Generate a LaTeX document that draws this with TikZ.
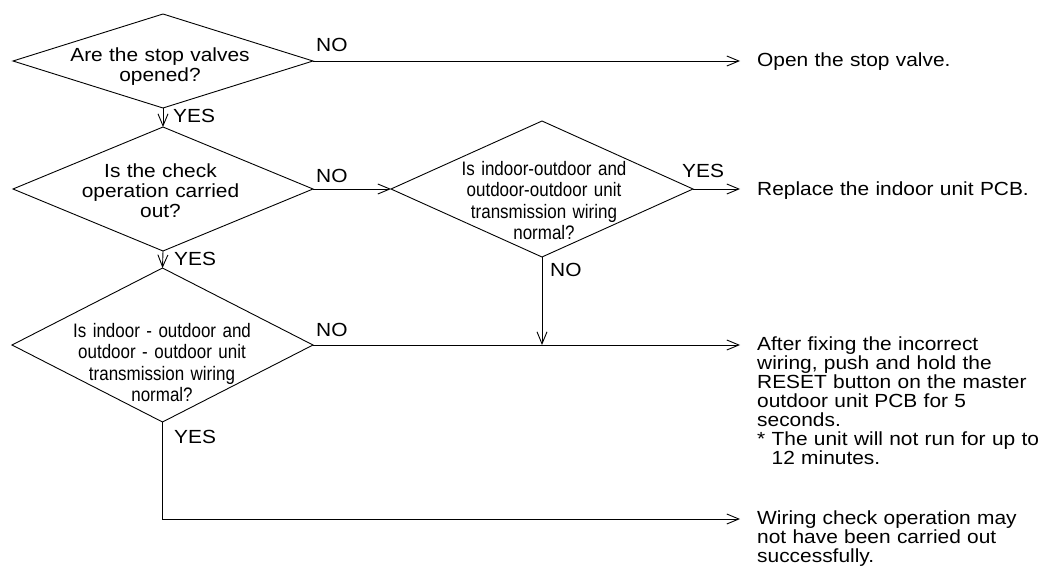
\documentclass[tikz,border=0pt]{standalone}
\usepackage{fontspec}
\setmainfont{Liberation Sans}
\newfontfamily\flowfont{Liberation Sans}[FakeStretch=1.1]
\newfontfamily\narrowfont{Liberation Sans}[FakeStretch=0.87]
\usetikzlibrary{shapes.geometric,arrows.meta}

\begin{document}
\begin{tikzpicture}[x=1pt,y=-1pt,
  decision/.style={draw, diamond, inner sep=0pt, outer sep=0pt, line width=0.9pt},
  flow/.style={line width=0.9pt, -{Straight Barb[length=12pt,width=10pt,line width=0.9pt]}},
  qtext/.style={font=\flowfont\fontsize{19}{20.3}\selectfont, inner sep=0pt,
    text width=230pt, align=center, anchor=base},
  qsmall/.style={font=\narrowfont\fontsize{19.5}{21.5}\selectfont, inner sep=0pt,
    text width=240pt, align=center, anchor=base},
  answer/.style={font=\flowfont\fontsize{19}{19}\selectfont, inner sep=0pt,
    text width=300pt, align=left, anchor=base west},
  tag/.style={font=\flowfont\fontsize{19}{19}\selectfont, inner sep=0pt, anchor=base west},
]
\useasboundingbox (0,0) rectangle (1043,567);

% decision diamonds
\node[decision, minimum width=300pt, minimum height=94pt]  (d1) at (163,61) {};
\node[decision, minimum width=300pt, minimum height=124pt] (d2) at (163,189) {};
\node[decision, minimum width=301pt, minimum height=154pt] (d3) at (162.5,345) {};
\node[decision, minimum width=302pt, minimum height=136pt] (d4) at (542,189) {};

% questions
\node[qtext]  (q1) at (160,61.5) {Are the stop valves\\opened?};
\node[qtext]  (q2) at (160.5,177) {Is the check\\operation carried\\out?};
\node[qsmall] (q3) at (162,337) {Is indoor - outdoor and\\outdoor - outdoor unit\\transmission wiring\\normal?};
\node[qsmall] (q4) at (544,175) {Is indoor-outdoor and\\outdoor-outdoor unit\\transmission wiring\\normal?};

% outcomes
\node[answer] (a1) at (757,67) {Open the stop valve.};
\node[answer] (a2) at (757,195) {Replace the indoor unit PCB.};
\node[answer] (a3) at (757,350) {After fixing the incorrect\\wiring, push and hold the\\RESET button on the master\\outdoor unit PCB for 5\\seconds.\\{}*~The unit will not run for up to\\\hphantom{*~}12 minutes.};
\node[answer] (a4) at (757,524) {Wiring check operation may\\not have been carried out\\successfully.};

% arrow ends in front of the outcomes
\coordinate (e1) at (740,61);
\coordinate (e2) at (740,189);
\coordinate (e3) at (740,345);
\coordinate (e4) at (740,519);

% connectors
\draw[flow] (d1.east) -- (e1);
\draw[flow] (d1.south) -- (d2.north);
\draw[flow] (d2.east) -- (d4.west);
\draw[flow] (d2.south) -- (d3.north);
\draw[flow] (d4.east) -- (e2);
\draw[flow] (d4.south) -- (d4.south |- e3);
\draw[flow] (d3.east) -- (e3);
\draw[flow] (d3.south) |- (e4);

% branch labels
\node[tag] (n1) at (316,52)  {NO};
\node[tag] (y1) at (173,122) {YES};
\node[tag] (n2) at (316,182) {NO};
\node[tag] (y2) at (174,265) {YES};
\node[tag] (y4) at (682,177) {YES};
\node[tag] (n4) at (550,276) {NO};
\node[tag] (n3) at (316,336) {NO};
\node[tag] (y3) at (174,443) {YES};
\end{tikzpicture}
\end{document}
